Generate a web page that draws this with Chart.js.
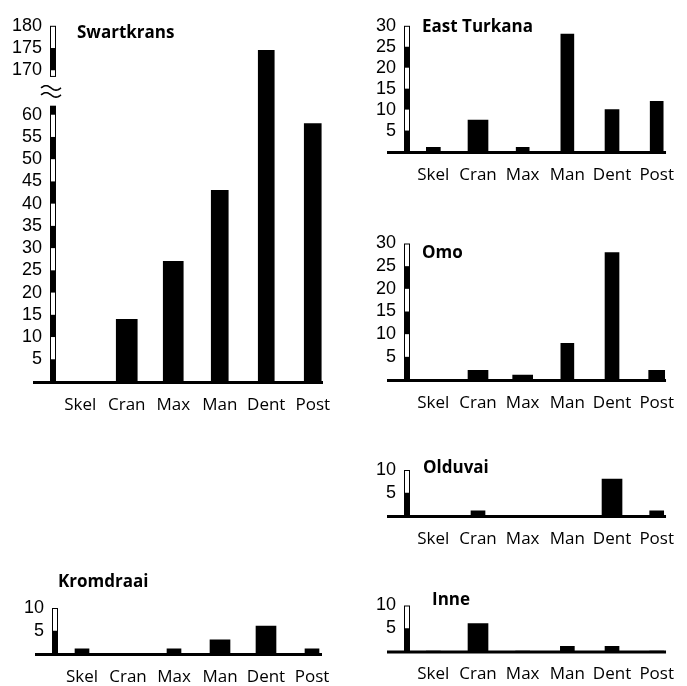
<!DOCTYPE html>
<html>
<head>
<meta charset="utf-8">
<script src="https://cdn.jsdelivr.net/npm/chart.js@4"></script>
<style>
  body { margin: 0; background: #fff; }
  #wrap { position: relative; width: 687px; height: 686px; }
  #wrap canvas { position: absolute; left: 0; top: 0; }
</style>
</head>
<body>
<div id="wrap"></div>
<script>
// Categories and counts per site
const categories = ['Skel', 'Cran', 'Max', 'Man', 'Dent', 'Post'];

const swartkrans = [0, 14, 27, 43, 174.5, 58];
const eastTurkana = [1, 7.5, 1, 28, 10, 12];
const omo = [0, 2, 1, 8, 28, 2];
const olduvai = [0, 1, 0, 0, 8, 1];
const inne = [0, 6, 0, 1, 1, 0];
const kromdraai = [1, 0, 1, 3, 6, 1];

// Tick labels
const swartkransTicks = [5, 10, 15, 20, 25, 30, 35, 40, 45, 50, 55, 60, 170, 175, 180];
const thirtyTicks = [5, 10, 15, 20, 25, 30];
const tenTicks = [5, 10];

// Swartkrans axis is cut between 62 and 168.5
const BREAK_LOW = 62;
const BREAK_HIGH = 168.5;
const BREAK_SHIFT = 100;

const W = 687, H = 686;
const Y_AXIS_W = 50;
const X_AXIS_H = 30;
const STEP = 5;

const panels = [
    { name: 'Swartkrans', values: swartkrans, ticks: swartkransTicks, max: 180, broken: true,
      barW: [18, 21, 20, 17, 16, 17],
      left: 57, width: 279, top: 17.5, bottom: 381.5, titleX: 77, titleY: 33 },
    { name: 'East Turkana', values: eastTurkana, ticks: thirtyTicks, max: 30,
      barW: [14, 20, 13, 13, 14, 13],
      left: 411, width: 276, top: 15, bottom: 151.5, titleX: 422, titleY: 27 },
    { name: 'Omo', values: omo, ticks: thirtyTicks, max: 30,
      barW: [14, 20, 20, 13, 14, 16],
      left: 411, width: 276, top: 243.5, bottom: 379.5, titleX: 422, titleY: 253 },
    { name: 'Olduvai', values: olduvai, ticks: tenTicks, max: 10,
      barW: [14, 14, 14, 14, 20, 14],
      left: 411, width: 276, top: 470, bottom: 515.5, titleX: 423, titleY: 468 },
    { name: 'Inne', values: inne, ticks: tenTicks, max: 10,
      barW: [14, 20, 14, 14, 14, 14],
      left: 411, width: 276, top: 605.5, bottom: 651, titleX: 432, titleY: 600 },
    { name: 'Kromdraai', values: kromdraai, ticks: tenTicks, max: 10,
      barW: [14, 14, 14, 20, 20, 14],
      left: 59, width: 276, top: 608, bottom: 653.5, titleX: 58, titleY: 582 }
];

function toDisplay(p, v) {
    return p.broken && v >= BREAK_HIGH ? v - BREAK_SHIFT : v;
}

function fromDisplay(p, v) {
    return p.broken && v > BREAK_LOW ? v + BREAK_SHIFT : v;
}

// Striped axis bar, baseline, break mark and site name
const decor = {
    id: 'decor',
    afterDraw(chart, args, opts) {
        const p = opts.panel;
        const ctx = chart.ctx;
        const area = chart.chartArea;
        const y = chart.scales.y;
        const bx = area.left - 7, bw = 6;
        const segs = p.broken ? [[0, BREAK_LOW], [BREAK_HIGH, p.max]] : [[0, p.max]];

        ctx.save();
        ctx.fillStyle = '#000';
        ctx.strokeStyle = '#000';
        segs.forEach(([a, b]) => {
            const yTop = y.getPixelForValue(toDisplay(p, b));
            const yBot = y.getPixelForValue(toDisplay(p, a));
            ctx.lineWidth = 1;
            ctx.strokeRect(bx + 0.5, yTop + 0.5, bw - 1, yBot - yTop - 1);
            for (let k = Math.floor(a / STEP) * STEP; k < b; k += STEP) {
                if ((k / STEP) % 2 !== 0) continue;
                const lo = Math.max(k, a), hi = Math.min(k + STEP, b);
                const y1 = y.getPixelForValue(toDisplay(p, hi));
                const y2 = y.getPixelForValue(toDisplay(p, lo));
                ctx.fillRect(bx, y1, bw, y2 - y1);
            }
        });

        // break mark
        if (p.broken) {
            const cy = y.getPixelForValue((BREAK_LOW + BREAK_HIGH - BREAK_SHIFT) / 2);
            const cx = bx + bw / 2 - 2;
            ctx.lineWidth = 1.6;
            [-3.5, 3.5].forEach(off => {
                ctx.beginPath();
                for (let i = 0; i <= 20; i++) {
                    const t = i / 20;
                    const px = cx - 10 + t * 20;
                    const py = cy + off - 2.2 * Math.sin(t * Math.PI * 2);
                    if (i === 0) ctx.moveTo(px, py); else ctx.lineTo(px, py);
                }
                ctx.stroke();
            });
        }

        // baseline
        const y0 = y.getPixelForValue(0);
        ctx.fillRect(area.left - 24, y0 - 0.5, area.right - 13 - (area.left - 24), 3);

        // site name
        ctx.font = 'bold 17px "Open Sans"';
        ctx.textAlign = 'left';
        ctx.textBaseline = 'middle';
        ctx.fillText(p.name, p.titleX, p.titleY);
        ctx.restore();
    }
};

// one dataset per bar width, overlaid on the same category slots
function buildDatasets(p) {
    const widths = [...new Set(p.barW)];
    return widths.map(w => ({
        data: p.values.map((v, i) => (p.barW[i] === w ? toDisplay(p, v) : null)),
        backgroundColor: '#000',
        borderWidth: 0,
        barThickness: w,
        grouped: false
    }));
}

function makePanel(p) {
    const canvas = document.createElement('canvas');
    canvas.width = W;
    canvas.height = H;
    document.getElementById('wrap').appendChild(canvas);

    return new Chart(canvas.getContext('2d'), {
        type: 'bar',
        data: {
            labels: categories,
            datasets: buildDatasets(p)
        },
        options: {
            responsive: false,
            animation: false,
            events: [],
            layout: {
                padding: {
                    left: p.left - Y_AXIS_W,
                    top: p.top,
                    right: W - p.left - p.width,
                    bottom: H - p.bottom - X_AXIS_H
                }
            },
            plugins: {
                legend: { display: false },
                tooltip: { enabled: false },
                decor: { panel: p }
            },
            scales: {
                x: {
                    grid: { display: false, drawTicks: false },
                    border: { display: false },
                    ticks: {
                        color: '#000',
                        padding: 13,
                        maxRotation: 0,
                        autoSkip: false,
                        font: { family: '"Open Sans"', size: 17 }
                    },
                    afterFit: s => { s.height = X_AXIS_H; }
                },
                y: {
                    min: 0,
                    max: toDisplay(p, p.max),
                    grid: { display: false, drawTicks: false },
                    border: { display: false },
                    ticks: {
                        color: '#000',
                        padding: 15,
                        autoSkip: false,
                        font: { family: '"Liberation Sans"', size: 18 },
                        callback: v => fromDisplay(p, v)
                    },
                    afterBuildTicks: s => {
                        s.ticks = p.ticks.map(v => ({ value: toDisplay(p, v) }));
                    },
                    afterFit: s => { s.width = Y_AXIS_W; }
                }
            }
        },
        plugins: [decor]
    });
}

Promise.all([
    document.fonts.load('17px "Open Sans"'),
    document.fonts.load('bold 17px "Open Sans"'),
    document.fonts.load('18px "Liberation Sans"')
]).catch(() => {}).then(() => {
    panels.forEach(makePanel);
});
</script>
</body>
</html>
